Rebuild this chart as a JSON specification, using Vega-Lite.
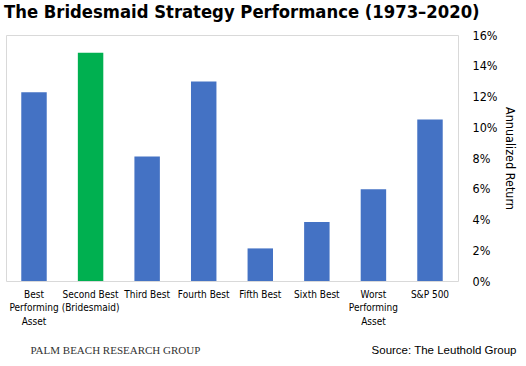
{
  "$schema": "https://vega.github.io/schema/vega-lite/v6.json",
  "background": "white",
  "padding": {"left": 3, "top": 2, "right": 5, "bottom": 0},
  "config": {
    "view": {"stroke": "#d9d9d9", "strokeWidth": 1},
    "font": "DejaVu Sans Condensed, Liberation Sans",
    "concat": {"spacing": 0}
  },
  "title": {
    "text": "PALM BEACH RESEARCH GROUP",
    "orient": "bottom",
    "anchor": "start",
    "font": "Liberation Serif",
    "fontSize": 11,
    "fontWeight": "normal",
    "color": "#333333",
    "dx": 27,
    "offset": -11
  },
  "vconcat": [
    {
      "width": 452,
      "height": 246,
      "title": {
        "text": "The Bridesmaid Strategy Performance (1973–2020)",
        "anchor": "start",
        "font": "DejaVu Sans Condensed, Liberation Sans",
        "fontSize": 18.3,
        "fontWeight": "bold",
        "color": "#000000",
        "dx": -2,
        "offset": 7
      },
      "data": {
        "values": [
          {"category": "Best\nPerforming\nAsset", "group": "Other", "ret": 12.28},
          {"category": "Second Best\n(Bridesmaid)", "group": "Bridesmaid", "ret": 14.84},
          {"category": "Third Best", "group": "Other", "ret": 8.09},
          {"category": "Fourth Best", "group": "Other", "ret": 12.98},
          {"category": "Fifth Best", "group": "Other", "ret": 2.12},
          {"category": "Sixth Best", "group": "Other", "ret": 3.83},
          {"category": "Worst\nPerforming\nAsset", "group": "Other", "ret": 5.97},
          {"category": "S&P 500", "group": "Other", "ret": 10.5}
        ]
      },
      "mark": {"type": "bar"},
      "encoding": {
        "x": {
          "field": "category",
          "type": "nominal",
          "sort": null,
          "scale": {"paddingInner": 0.55, "paddingOuter": 0.27},
          "axis": {
            "labelAngle": 0,
            "labelExpr": "split(datum.value, '\\n')",
            "labelFontSize": 10,
            "labelLineHeight": 13.5,
            "labelColor": "#000000",
            "ticks": false,
            "domain": false,
            "labelPadding": 8,
            "title": "Source: The Leuthold Group",
            "titleAnchor": "end",
            "titleAlign": "right",
            "titleBaseline": "middle",
            "titleX": 510,
            "titleY": 69,
            "titleFont": "Liberation Sans",
            "titleFontSize": 11.5,
            "titleFontWeight": "normal",
            "titleColor": "#000000"
          }
        },
        "y": {
          "field": "ret",
          "type": "quantitative",
          "scale": {"domain": [0, 16]},
          "axis": {
            "orient": "right",
            "values": [0, 2, 4, 6, 8, 10, 12, 14, 16],
            "labelExpr": "datum.value + '%'",
            "labelFontSize": 12.5,
            "labelColor": "#000000",
            "labelPadding": 14,
            "ticks": false,
            "domain": false,
            "grid": false,
            "title": "Annualized Return",
            "titleAngle": 90,
            "titleFontSize": 12.5,
            "titleFontWeight": "normal",
            "titleColor": "#000000",
            "titlePadding": 6
          }
        },
        "color": {
          "field": "group",
          "type": "nominal",
          "scale": {"domain": ["Other", "Bridesmaid"], "range": ["#4472C4", "#00B050"]},
          "legend": null
        }
      }
    }
  ]
}
